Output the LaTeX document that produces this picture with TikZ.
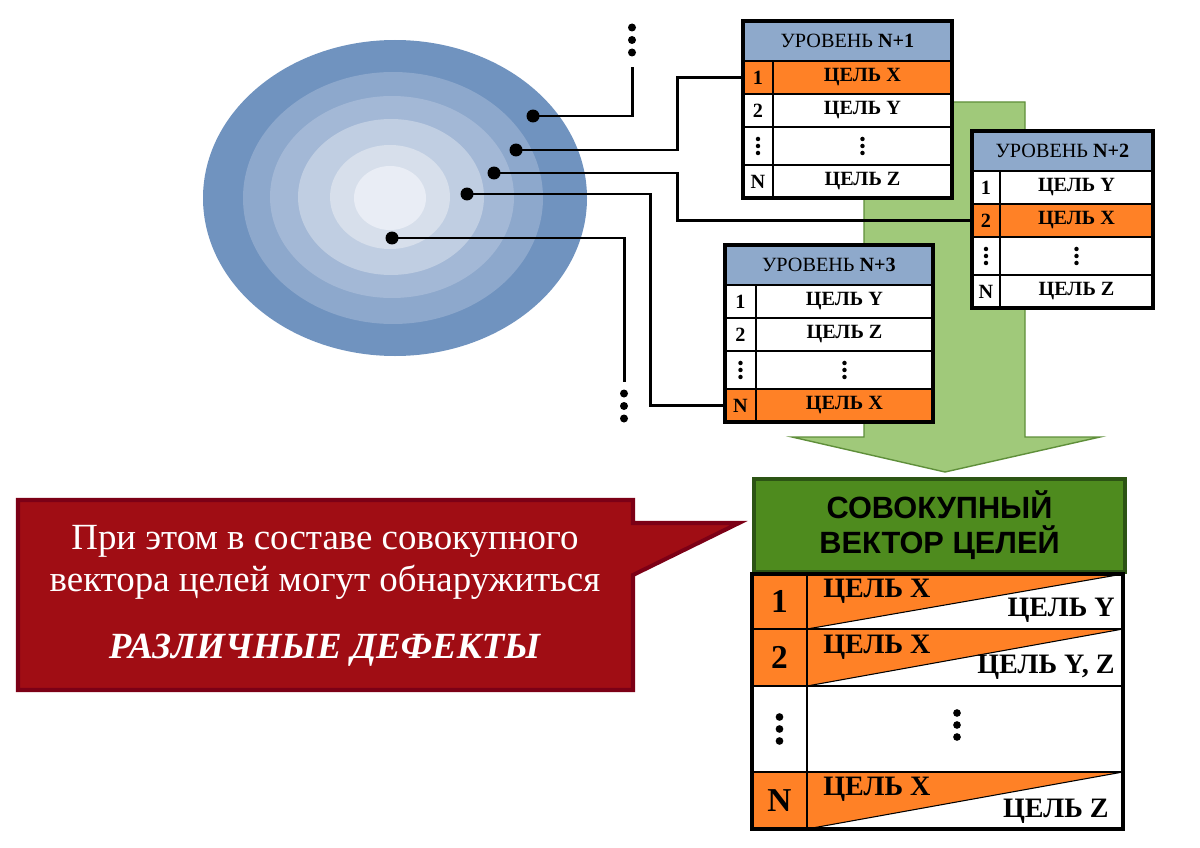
\documentclass[tikz,border=0pt]{standalone}
\usepackage{fontspec}
\setmainfont{Liberation Serif}
\newfontfamily\headfont{Liberation Sans}
\usetikzlibrary{positioning}
\definecolor{ringA}{HTML}{7093BF}
\definecolor{ringB}{HTML}{8DA8CC}
\definecolor{ringC}{HTML}{A3B8D6}
\definecolor{ringD}{HTML}{C0CEE2}
\definecolor{ringE}{HTML}{D7DFEB}
\definecolor{ringF}{HTML}{E9EDF5}
\definecolor{lvlblue}{HTML}{8EA9CB}
\definecolor{goalorange}{HTML}{FF8126}
\definecolor{arrowgreen}{HTML}{A0C97A}
\definecolor{arrowedge}{HTML}{5F8F3A}
\definecolor{vecgreen}{HTML}{4E8B1E}
\definecolor{vecedge}{HTML}{2C5414}
\definecolor{calloutred}{HTML}{A00D14}
\definecolor{calloutedge}{HTML}{7C0016}

\begin{document}
\begin{tikzpicture}[
    x=0.02cm, y=-0.02cm,
    wire/.style={line width=1.7pt, draw=black},
    dot/.style={circle, fill=black, inner sep=0pt, minimum size=0.26cm},
    lvlhead/.style={draw=black, line width=1.1pt, fill=lvlblue, inner sep=0pt, outer sep=0pt,
        anchor=north west, minimum height=0.8cm, font=\fontsize{11.5}{13}\selectfont},
    numcell/.style={draw=black, line width=1.1pt, fill=white, inner sep=0pt, outer sep=0pt,
        minimum height=0.66cm, font=\fontsize{11.5}{13}\selectfont\bfseries},
    dotsrow/.style={minimum height=0.76cm},
    hit/.style={fill=goalorange},
    frame/.style={line width=1.8pt, draw=black},
    vechead/.style={draw=vecedge, line width=2.3pt, fill=vecgreen, inner sep=0pt, anchor=north west,
        minimum width=7.42cm, minimum height=1.86cm, align=center,
        font=\headfont\fontsize{17.5}{20}\selectfont\bfseries},
    vecnum/.style={draw=black, line width=1.5pt, fill=white, inner sep=0pt, outer sep=0pt,
        minimum width=1.1cm, font=\fontsize{19}{20}\selectfont\bfseries},
    vecrow/.style={draw=black, line width=1.5pt, fill=white, inner sep=0pt, outer sep=0pt,
        minimum width=6.32cm},
    split/.style={path picture={
        \fill[goalorange] (path picture bounding box.north west) -- (path picture bounding box.north east)
            -- (path picture bounding box.south west) -- cycle;
        \draw[line width=0.6pt] (path picture bounding box.north east) -- (path picture bounding box.south west);}},
    vecgoal/.style={inner sep=0pt, font=\fontsize{16}{18}\selectfont\bfseries},
    dotcol/.pic={\foreach \k in {-1,0,1} \fill (0,\k*#1) circle ({#1*0.32});}
]
\useasboundingbox (0,0) rectangle (1200,848);

% Goal field (rings)
\fill[ringA] (395,198) ellipse [x radius=192, y radius=158];
\fill[ringB] (393,198) ellipse [x radius=150, y radius=126];
\fill[ringC] (392,197) ellipse [x radius=122, y radius=101];
\fill[ringD] (391,197) ellipse [x radius=93, y radius=78];
\fill[ringE] (390,197) ellipse [x radius=60, y radius=52];
\fill[ringF] (390,198) ellipse [x radius=36, y radius=32];

% Merge arrow
\draw[arrowedge, fill=arrowgreen, line width=0.8pt] (864,102) -- (1025,102) -- (1025,437) -- (1100,437)
    -- (945,472) -- (792,437) -- (864,437) -- cycle;

% Level points
\node[dot] (d1) at (533,116) {};
\node[dot] (d2) at (516,150) {};
\node[dot] (d3) at (494,173) {};
\node[dot] (d4) at (467,194) {};
\node[dot] (d5) at (392,238) {};
\coordinate (up1) at (632,67);
\coordinate (down5) at (624,382);
\pic at (632,40) {dotcol=12.5};
\pic at (624,406) {dotcol=12.5};

% Level N+1
\node[lvlhead, minimum width=4.18cm] (t1h) at (743,21) {УРОВЕНЬ \textbf{N+1}};
\node[numcell, hit, minimum width=0.6cm, below=0pt of t1h.south west, anchor=north west] (t1n1) {1};
\node[numcell, hit, minimum width=3.58cm, right=0pt of t1n1] (t1g1) {ЦЕЛЬ X};
\node[numcell, minimum width=0.6cm, below=0pt of t1n1] (t1n2) {2};
\node[numcell, minimum width=3.58cm, right=0pt of t1n2] (t1g2) {ЦЕЛЬ Y};
\node[numcell, dotsrow, minimum width=0.6cm, below=0pt of t1n2] (t1n3) {};
\node[numcell, dotsrow, minimum width=3.58cm, right=0pt of t1n3] (t1g3) {};
\node[numcell, minimum width=0.6cm, below=0pt of t1n3] (t1n4) {N};
\node[numcell, minimum width=3.58cm, right=0pt of t1n4] (t1g4) {ЦЕЛЬ Z};
\draw[frame] (t1h.north west) rectangle (t1g4.south east);
\pic at (t1n3) {dotcol=7};
\pic at (t1g3) {dotcol=7};

% Level N+2
\node[lvlhead, minimum width=3.62cm] (t2h) at (972,131) {УРОВЕНЬ \textbf{N+2}};
\node[numcell, minimum width=0.56cm, below=0pt of t2h.south west, anchor=north west] (t2n1) {1};
\node[numcell, minimum width=3.06cm, right=0pt of t2n1] (t2g1) {ЦЕЛЬ Y};
\node[numcell, hit, minimum width=0.56cm, below=0pt of t2n1] (t2n2) {2};
\node[numcell, hit, minimum width=3.06cm, right=0pt of t2n2] (t2g2) {ЦЕЛЬ X};
\node[numcell, dotsrow, minimum width=0.56cm, below=0pt of t2n2] (t2n3) {};
\node[numcell, dotsrow, minimum width=3.06cm, right=0pt of t2n3] (t2g3) {};
\node[numcell, minimum width=0.56cm, below=0pt of t2n3] (t2n4) {N};
\node[numcell, minimum width=3.06cm, right=0pt of t2n4] (t2g4) {ЦЕЛЬ Z};
\draw[frame] (t2h.north west) rectangle (t2g4.south east);
\pic at (t2n3) {dotcol=7};
\pic at (t2g3) {dotcol=7};

% Level N+3
\node[lvlhead, minimum width=4.16cm] (t3h) at (725,245) {УРОВЕНЬ \textbf{N+3}};
\node[numcell, minimum width=0.62cm, below=0pt of t3h.south west, anchor=north west] (t3n1) {1};
\node[numcell, minimum width=3.54cm, right=0pt of t3n1] (t3g1) {ЦЕЛЬ Y};
\node[numcell, minimum width=0.62cm, below=0pt of t3n1] (t3n2) {2};
\node[numcell, minimum width=3.54cm, right=0pt of t3n2] (t3g2) {ЦЕЛЬ Z};
\node[numcell, dotsrow, minimum width=0.62cm, below=0pt of t3n2] (t3n3) {};
\node[numcell, dotsrow, minimum width=3.54cm, right=0pt of t3n3] (t3g3) {};
\node[numcell, hit, minimum width=0.62cm, below=0pt of t3n3] (t3n4) {N};
\node[numcell, hit, minimum width=3.54cm, right=0pt of t3n4] (t3g4) {ЦЕЛЬ X};
\draw[frame] (t3h.north west) rectangle (t3g4.south east);
\pic at (t3n3) {dotcol=7};
\pic at (t3g3) {dotcol=7};

% Wires from the rings to the levels
\draw[wire] (d1.center) -| (up1);
\draw[wire] (d2.center) -- ++(161,0) |- (t1n1.west);
\draw[wire] (d3.center) -- ++(183,0) |- (t2n2.west);
\draw[wire] (d4.center) -- ++(183,0) |- (t3n4.west);
\draw[wire] (d5.center) -| (down5);

% Aggregate vector
\node[vechead] (vh) at (752,477) {СОВОКУПНЫЙ\\ВЕКТОР ЦЕЛЕЙ};
\node[vecnum, hit, minimum height=1.1cm, below=0pt of vh.south west, anchor=north west] (vn1) {1};
\node[vecrow, split, minimum height=1.1cm, right=0pt of vn1] (vg1) {};
\node[vecnum, hit, minimum height=1.14cm, below=0pt of vn1] (vn2) {2};
\node[vecrow, split, minimum height=1.14cm, right=0pt of vn2] (vg2) {};
\node[vecnum, minimum height=1.72cm, below=0pt of vn2] (vn3) {};
\node[vecrow, minimum height=1.72cm, right=0pt of vn3] (vg3) {};
\node[vecnum, hit, minimum height=1.14cm, below=0pt of vn3] (vn4) {N};
\node[vecrow, split, minimum height=1.14cm, right=0pt of vn4] (vg4) {};
\draw[frame] (vn1.north west) rectangle (vg4.south east);
\pic at (vn3) {dotcol=12};
\pic at (957,725) {dotcol=12};

\node[vecgoal, anchor=base west] (x1) at (823,597) {ЦЕЛЬ X};
\node[vecgoal, anchor=base east] (y1) at (1115,616) {ЦЕЛЬ Y};
\node[vecgoal, anchor=base west] (x2) at (823,653) {ЦЕЛЬ X};
\node[vecgoal, anchor=base east] (y2) at (1115,673) {ЦЕЛЬ Y, Z};
\node[vecgoal, anchor=base west] (x4) at (823,795) {ЦЕЛЬ X};
\node[vecgoal, anchor=base east] (z4) at (1109,817) {ЦЕЛЬ Z};

% Callout
\draw[calloutedge, fill=calloutred, line width=2.3pt] (18,500) -- (633,500) -- (633,523) -- (739,523)
    -- (633,575) -- (633,690) -- (18,690) -- cycle;
\node[text=white, align=center, font=\fontsize{21}{24}\selectfont] (note) at (325,596)
    {При этом в составе совокупного\\вектора целей могут обнаружиться\\[14pt]
     \textbf{\textit{РАЗЛИЧНЫЕ ДЕФЕКТЫ}}};

\end{tikzpicture}
\end{document}
